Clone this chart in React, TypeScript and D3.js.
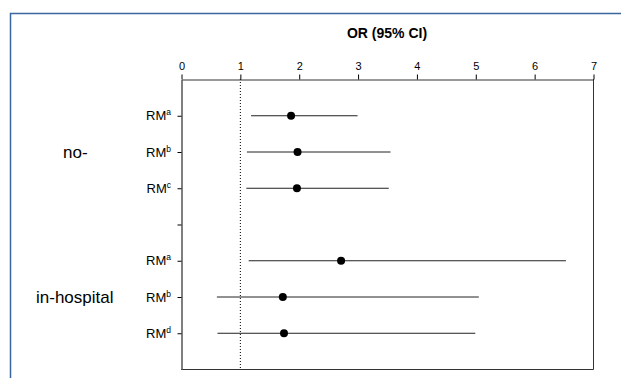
import React, { useRef, useEffect } from 'react';
import * as d3 from 'd3';

// rows of the forest plot (row 4 is an empty separator)
const rowPos = [1, 2, 3, 5, 6, 7];
const rowLabels = ['a', 'b', 'c', 'a', 'b', 'd'];
const orValues = [1.87, 1.98, 1.97, 2.72, 1.73, 1.75];
const ciLow = [1.19, 1.12, 1.11, 1.15, 0.61, 0.62];
const ciHigh = [3.0, 3.56, 3.53, 6.54, 5.06, 5.0];
const groups = [
  { name: 'no-', pos: 2 },
  { name: 'in-hospital', pos: 6 },
];
const xTicks = [0, 1, 2, 3, 4, 5, 6, 7];

const font = 'Arial, "Liberation Sans", sans-serif';

const App = () => {
  const svgRef = useRef<SVGSVGElement>(null);
  const width = 621;
  const height = 378;

  useEffect(() => {
    const svg = d3.select(svgRef.current);
    svg.selectAll('*').remove();

    const margin = { top: 79, right: 28, bottom: 9, left: 181 };

    const x = d3.scaleLinear()
      .domain([0, 7])
      .range([margin.left, width - margin.right]);

    const y = d3.scaleLinear()
      .domain([0, 8])
      .range([margin.top, height - margin.bottom]);

    // blue outer frame (top + left only visible)
    svg.append('path')
      .attr('d', `M10.5,${height}V13.5H${width}`)
      .attr('fill', 'none')
      .attr('stroke', '#3a66a0')
      .attr('stroke-width', 1.5);

    // title
    svg.append('text')
      .attr('x', (x(0) + x(7)) / 2)
      .attr('y', 38)
      .attr('text-anchor', 'middle')
      .style('font-family', font)
      .style('font-size', '14px')
      .style('font-weight', 'bold')
      .text('OR (95% CI)');

    // plot box right + bottom
    svg.append('path')
      .attr('d', `M${x(7) + 0.5},${y(0)}V${y(8) + 0.5}H${x(0)}`)
      .attr('fill', 'none')
      .attr('stroke', '#333');

    // reference line at OR = 1
    svg.append('line')
      .attr('x1', x(1) + 0.5)
      .attr('x2', x(1) + 0.5)
      .attr('y1', y(0))
      .attr('y2', y(8))
      .attr('stroke', '#000')
      .attr('stroke-dasharray', '1,2');

    const xAxis = d3.axisTop(x)
      .tickValues(xTicks)
      .tickFormat(d3.format('d'))
      .tickSize(5)
      .tickSizeOuter(0)
      .tickPadding(5);

    const gx = svg.append('g')
      .attr('transform', `translate(0.5,${margin.top + 0.5})`)
      .call(xAxis);
    gx.select('.domain').attr('stroke', '#333');
    gx.selectAll('text')
      .style('font-family', font)
      .style('font-size', '11px')
      .attr('fill', '#000');

    const yAxis = d3.axisLeft(y)
      .tickValues([1, 2, 3, 4, 5, 6, 7])
      .tickFormat(() => '')
      .tickSize(4)
      .tickSizeOuter(0);

    const gy = svg.append('g')
      .attr('transform', `translate(${margin.left + 0.5},0.5)`)
      .call(yAxis);
    gy.select('.domain').attr('stroke', '#555').attr('stroke-width', 1.5);

    // row labels RM + superscript
    rowPos.forEach((p, i) => {
      const t = svg.append('text')
        .attr('x', margin.left - 10)
        .attr('y', y(p) + 5)
        .attr('text-anchor', 'end')
        .style('font-family', font)
        .style('font-size', '13px');
      t.append('tspan').text('RM');
      t.append('tspan')
        .attr('dy', -5)
        .style('font-size', '8.5px')
        .text(rowLabels[i]);
    });

    // group labels
    svg.selectAll('.group')
      .data(groups)
      .enter().append('text')
      .attr('class', 'group')
      .attr('x', d => d.name === 'no-' ? 63 : 36)
      .attr('y', d => y(d.pos) + 6)
      .style('font-family', font)
      .style('font-size', '17px')
      .text(d => d.name);

    // confidence intervals
    svg.selectAll('.ci')
      .data(rowPos)
      .enter().append('line')
      .attr('class', 'ci')
      .attr('x1', (d, i) => x(ciLow[i]))
      .attr('x2', (d, i) => x(ciHigh[i]))
      .attr('y1', d => y(d) + 0.5)
      .attr('y2', d => y(d) + 0.5)
      .attr('stroke', '#222')
      .attr('stroke-width', 1);

    // point estimates
    svg.selectAll('.pt')
      .data(rowPos)
      .enter().append('circle')
      .attr('class', 'pt')
      .attr('cx', (d, i) => x(orValues[i]))
      .attr('cy', d => y(d) + 0.5)
      .attr('r', 4)
      .attr('fill', '#000');
  }, []);

  return (
    <svg ref={svgRef} width={width} height={height} style={{ position: 'absolute', left: 0, top: 0, background: '#fff' }} />
  );
};

export default App;
